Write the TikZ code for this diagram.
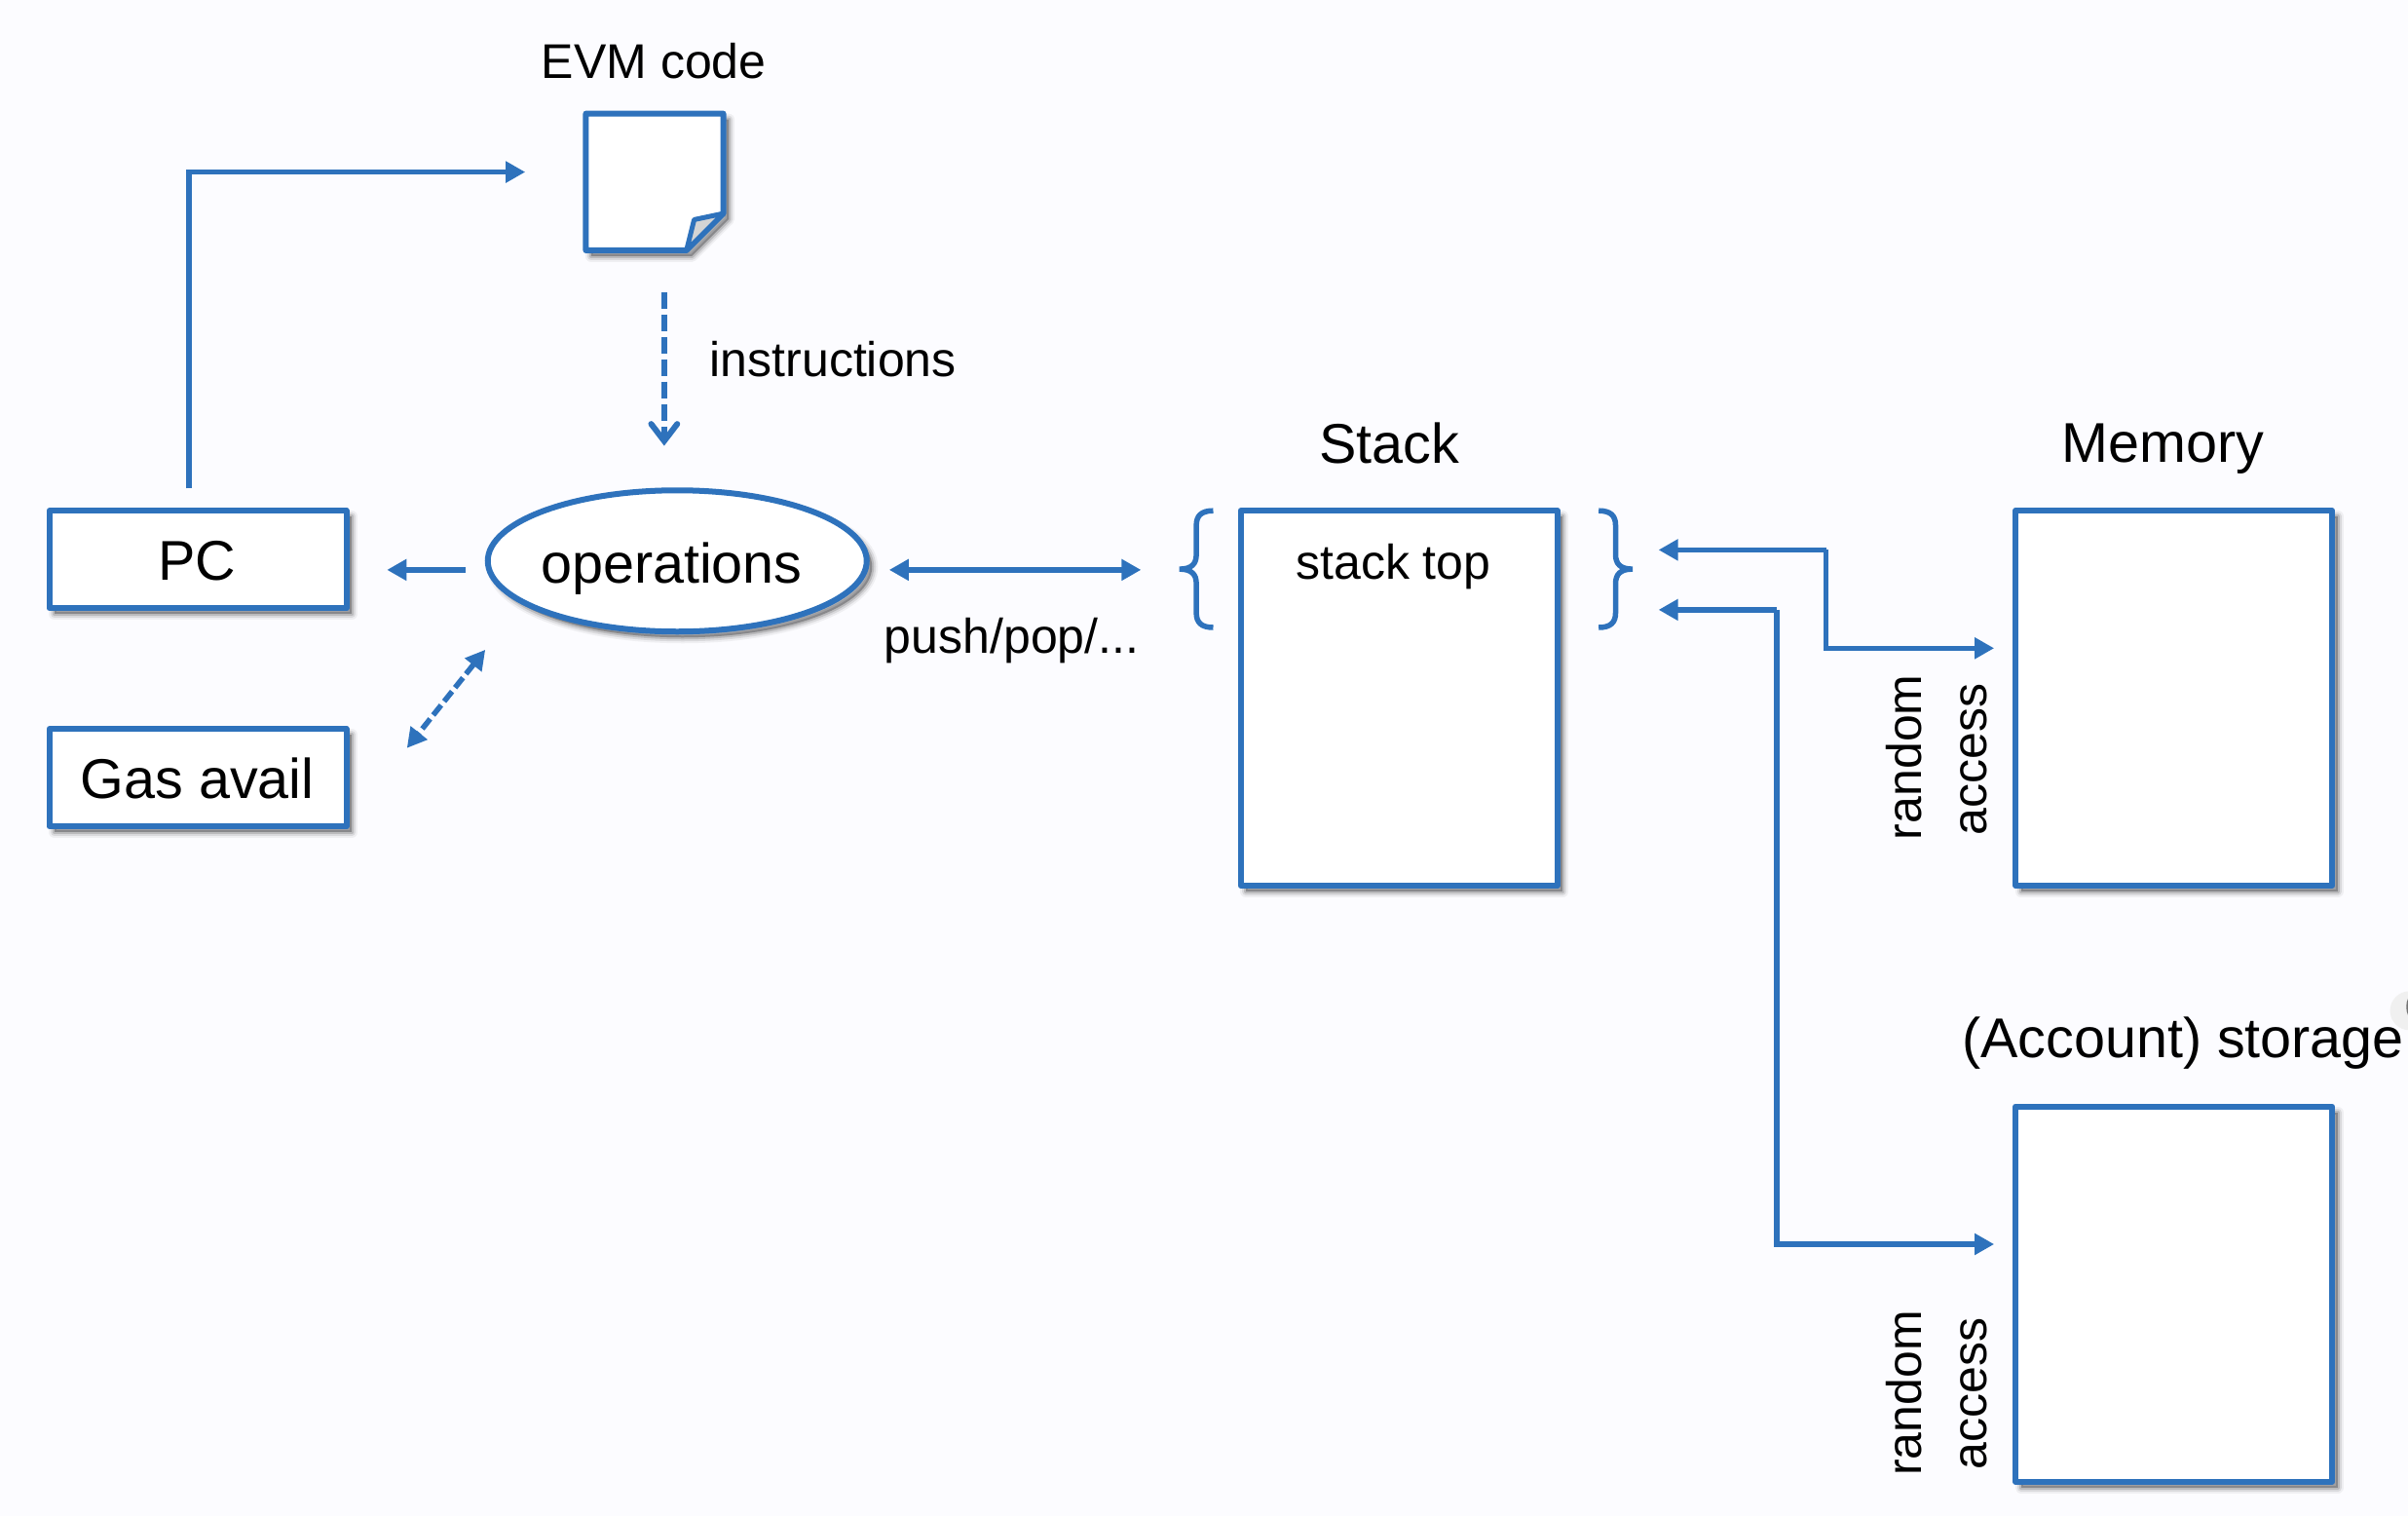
\documentclass[tikz,border=0pt]{standalone}
\usepackage{fontspec}
\setmainfont{Liberation Sans}
\usetikzlibrary{arrows.meta,shapes.geometric}
\definecolor{bluel}{HTML}{2E72BC}
\definecolor{pagebg}{HTML}{FCFCFF}
\tikzset{
  softshadow/.style={
    preaction={draw=black,fill=black,opacity=.05,line width=12pt,line join=round,transform canvas={shift={(5.5pt,-6pt)}}},
    preaction={draw=black,fill=black,opacity=.09,line width=8pt,line join=round,transform canvas={shift={(5.5pt,-6pt)}}},
    preaction={draw=black,fill=black,opacity=.14,line width=4pt,line join=round,transform canvas={shift={(5.5pt,-6pt)}}}},
  boxb/.style={draw=bluel,fill=white,line width=6pt,line join=round,softshadow,minimum width=305pt,minimum height=100pt,inner sep=0pt},
  tallb/.style={draw=bluel,fill=white,line width=6pt,line join=round,softshadow,minimum width=325pt,minimum height=385pt,inner sep=0pt},
  lab/.style={inner sep=0pt,text=black},
  big/.style={lab,font=\fontsize{57.5}{66}\selectfont},
  small/.style={lab,font=\fontsize{50}{58}\selectfont},
  conn/.style={draw=bluel,line width=5.5pt,-{Triangle[length=20pt,width=21pt]}},
  plain/.style={draw=bluel,line width=5.5pt},
  dconn/.style={conn,{Triangle[length=20pt,width=21pt]}-{Triangle[length=20pt,width=21pt]}},
  dash5/.style={dash pattern=on 17pt off 6pt},
  brk/.style={draw=bluel,line width=5.5pt,line cap=butt},
}
\begin{document}
\begin{tikzpicture}[x=1.5765pt,y=-1.5765pt]
\path[use as bounding box,fill=pagebg] (0,0) rectangle (1568,987);
% faint clipped object at the right edge
\fill[black!6] (1569,658) circle[radius=12.7];
\fill[black!55] (1568,650) .. controls (1566.5,653) and (1566.5,658) .. (1568,661) -- cycle;

% memory blocks
\node[tallb] (stack) at (911,454.5) {};
\node[tallb] (memory) at (1415.5,454.5) {};
\node[tallb] (storage) at (1415.5,842.5) {};
\node[boxb] (pc) at (128.8,364.2) {};
\node[boxb] (gas) at (128.8,506.3) {};
\node[big] at (128.5,365) {PC};
\node[big] at (128.5,507) {Gas avail};

% operations
\node[ellipse,draw=bluel,fill=white,line width=6pt,softshadow,minimum width=389pt,minimum height=145pt,inner sep=0pt] (ops) at (441,365.2) {};
\node[big] at (437.3,370) {operations};

% EVM document
\coordinate (docA) at (381.5,74);
\coordinate (docB) at (471,74);
\coordinate (docC) at (471,139);
\coordinate (docD) at (447,163);
\coordinate (docE) at (381.5,163);
\coordinate (docF) at (452,143);
\draw[bluel,fill=white,line width=6pt,line join=round,softshadow] (docA) -- (docB) -- (docC) -- (docD) -- (docE) -- cycle;
\draw[bluel,fill=black!17,line width=5pt,line join=round] (docD) -- (docF) -- (docC) -- cycle;

% text labels
\node[small] (evmlab) at (425.7,40) {EVM code};
\node[small] (instlab) at (542.5,234) {instructions};
\node[big] (stacklab) at (904.5,288.7) {Stack};
\node[big] (memlab) at (1408.5,292) {Memory};
\node[big] (storlab) at (1421.5,679) {(Account) storage};
\node[small] (toplab) at (907.3,369) {stack top};
\node[small] (pushlab) at (658.8,417) {push/pop/...};
\node[small,rotate=90] (r1) at (1240,493) {random};
\node[small,rotate=90] (a1) at (1285.5,494.5) {access};
\node[small,rotate=90] (r2) at (1240,907) {random};
\node[small,rotate=90] (a2) at (1285.5,907.5) {access};

% connector end points
\coordinate (pcUp) at (123,318);
\coordinate (pcCorner) at (123,112);
\coordinate (docIn) at (342,112);
\coordinate (instTop) at (432.5,190);
\coordinate (instEnd) at (432.5,289);
\coordinate (opsL) at (303,371);
\coordinate (pcIn) at (252,371);
\coordinate (opsR) at (579,371);
\coordinate (stackIn) at (743,371);
\coordinate (gasA) at (316,423);
\coordinate (gasB) at (265,487);
\coordinate (sTopA) at (1080,358);
\coordinate (memJ) at (1189,358);
\coordinate (memK) at (1189,422);
\coordinate (memIn) at (1298.5,422);
\coordinate (sTopB) at (1080,397);
\coordinate (storJ) at (1157,397);
\coordinate (storK) at (1157,810);
\coordinate (storIn) at (1298.5,810);

% connectors
\draw[plain,dash5,shorten >=6pt] (instTop) -- (instEnd);
\draw[bluel,line width=6pt,line cap=round,line join=miter] ([shift={(-8.5,-13)}]instEnd) -- ([yshift=3pt]instEnd) -- ([shift={(8.5,-13)}]instEnd);
\draw[conn] (pcUp) -- (pcCorner) -- (docIn);
\draw[conn] (opsL) -- (pcIn);
\draw[dconn] (opsR) -- (stackIn);
\draw[dconn,dash pattern=on 13pt off 5pt] (gasA) -- (gasB);
\draw[conn] (memJ) -- (sTopA);
\draw[conn] (memJ) -- (memK) -- (memIn);
\draw[conn] (storJ) -- (sTopB);
\draw[conn] (storJ) -- (storK) -- (storIn);

% braces round the stack top
\draw[brk] (790,332.5) .. controls (782,332.5) and (779,336) .. (779,342) -- (779,361) .. controls (779,367) and (776,370.5) .. (768,370.5) .. controls (776,370.5) and (779,374) .. (779,380) -- (779,399) .. controls (779,405) and (782,408.5) .. (790,408.5);
\draw[brk] (1041,332.5) .. controls (1049,332.5) and (1052,336) .. (1052,342) -- (1052,361) .. controls (1052,367) and (1055,370.5) .. (1063,370.5) .. controls (1055,370.5) and (1052,374) .. (1052,380) -- (1052,399) .. controls (1052,405) and (1049,408.5) .. (1041,408.5);
\end{tikzpicture}
\end{document}
